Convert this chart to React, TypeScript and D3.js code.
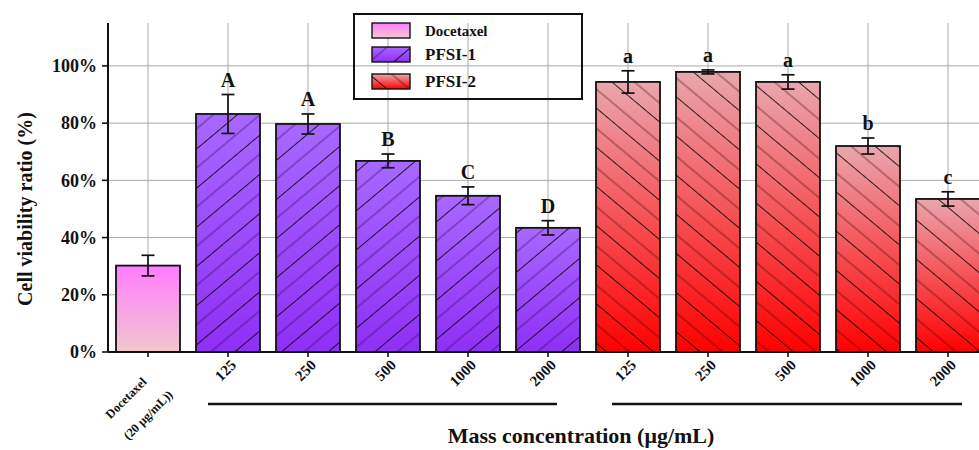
import * as d3 from "d3";

const categories = ["Docetaxel", "P1-125", "P1-250", "P1-500", "P1-1000", "P1-2000", "P2-125", "P2-250", "P2-500", "P2-1000", "P2-2000"];
const tickLabels = ["", "125", "250", "500", "1000", "2000", "125", "250", "500", "1000", "2000"];
const groups = ["Docetaxel", "PFSI-1", "PFSI-1", "PFSI-1", "PFSI-1", "PFSI-1", "PFSI-2", "PFSI-2", "PFSI-2", "PFSI-2", "PFSI-2"];
const values = [30.2, 83.2, 79.7, 66.8, 54.6, 43.4, 94.4, 97.9, 94.4, 72.0, 53.5];
const errors = [3.6, 6.8, 3.5, 2.4, 3.1, 2.5, 3.9, 0.7, 2.5, 2.8, 2.5];
const letters = ["", "A", "A", "B", "C", "D", "a", "a", "a", "b", "c"];
const yTicks = [0, 20, 40, 60, 80, 100];
const legendItems = ["Docetaxel", "PFSI-1", "PFSI-2"];

const FONT = "'Liberation Serif', 'Times New Roman', serif";

export default function App() {
    const width = 979;
    const height = 450;
    const margin = {left: 108, top: 23, bottom: 352};

    const x = d3.scaleBand<string>()
        .domain(categories)
        .range([margin.left, margin.left + 880])
        .paddingInner(0.2)
        .paddingOuter(0.1);

    const y = d3.scaleLinear()
        .domain([0, 115])
        .range([margin.bottom, margin.top]);

    const fillFor = (g: string) => g === "Docetaxel" ? "url(#gDoc)" : g === "PFSI-1" ? "url(#gP1)" : "url(#gP2)";
    const hatchFor = (g: string) => g === "PFSI-1" ? "url(#hP1)" : g === "PFSI-2" ? "url(#hP2)" : null;

    const center = (c: string) => (x(c) || 0) + x.bandwidth() / 2;
    const p1 = categories.filter((c, i) => groups[i] === "PFSI-1");
    const p2 = categories.filter((c, i) => groups[i] === "PFSI-2");

    return (
        <svg width={width} height={height} style={{position: "absolute", left: 0, top: 0, background: "#fff"}}
             fontFamily={FONT} fontWeight="bold">
            <defs>
                <linearGradient id="gDoc" x1="0" y1="0" x2="0" y2="1">
                    <stop offset="0" stopColor="#ff7cff"/>
                    <stop offset="1" stopColor="#f2c8cc"/>
                </linearGradient>
                <linearGradient id="gP1" x1="0" y1="0" x2="0" y2="1">
                    <stop offset="0" stopColor="#a868ff"/>
                    <stop offset="1" stopColor="#8f2ff5"/>
                </linearGradient>
                <linearGradient id="gP2" x1="0" y1="0" x2="0" y2="1">
                    <stop offset="0" stopColor="#eaa6ae"/>
                    <stop offset="1" stopColor="#ff0000"/>
                </linearGradient>
                <pattern id="hP1" patternUnits="userSpaceOnUse" width="30" height="30" patternTransform="rotate(50)">
                    <line x1="0" y1="0" x2="0" y2="30" stroke="#000" strokeWidth="1.6"/>
                    <line x1="15" y1="0" x2="15" y2="30" stroke="#2a0050" strokeWidth="1" strokeOpacity="0.6"/>
                </pattern>
                <pattern id="hP2" patternUnits="userSpaceOnUse" width="30" height="30" patternTransform="rotate(-50)">
                    <line x1="0" y1="0" x2="0" y2="30" stroke="#000" strokeWidth="1.6"/>
                    <line x1="15" y1="0" x2="15" y2="30" stroke="#400000" strokeWidth="1" strokeOpacity="0.6"/>
                </pattern>
            </defs>

            {/* grid */}
            {yTicks.filter(t => t > 0).map(t => (
                <line key={"hg" + t} x1={margin.left} x2={width} y1={y(t)} y2={y(t)} stroke="#aaa" strokeWidth={1}/>
            ))}
            {categories.map(c => (
                <line key={"vg" + c} x1={center(c)} x2={center(c)} y1={margin.top} y2={margin.bottom} stroke="#aaa" strokeWidth={1}/>
            ))}

            {/* bars */}
            {categories.map((c, i) => {
                const h = hatchFor(groups[i]);
                return (
                    <g key={"b" + c}>
                        <rect x={x(c)} y={y(values[i])} width={x.bandwidth()} height={y(0) - y(values[i])}
                              fill={fillFor(groups[i])}/>
                        {h && <rect x={x(c)} y={y(values[i])} width={x.bandwidth()} height={y(0) - y(values[i])}
                                    fill={h}/>}
                        <rect x={x(c)} y={y(values[i])} width={x.bandwidth()} height={y(0) - y(values[i])}
                              fill="none" stroke="#111" strokeWidth={1.8}/>
                    </g>
                );
            })}

            {/* error bars */}
            {categories.map((c, i) => {
                const cx = center(c);
                const top = y(values[i] + errors[i]);
                const bot = y(values[i] - errors[i]);
                return (
                    <g key={"e" + c} stroke="#111" strokeWidth={1.7}>
                        <line x1={cx} x2={cx} y1={top} y2={bot}/>
                        <line x1={cx - 6.5} x2={cx + 6.5} y1={top} y2={top}/>
                        <line x1={cx - 6.5} x2={cx + 6.5} y1={bot} y2={bot}/>
                    </g>
                );
            })}

            {/* significance letters */}
            {categories.map((c, i) => letters[i] ? (
                <text key={"l" + c} x={center(c)} y={y(values[i] + errors[i]) - 8} textAnchor="middle"
                      fontSize={20} fill="#111">{letters[i]}</text>
            ) : null)}

            {/* y axis */}
            <line x1={margin.left} x2={margin.left} y1={margin.top} y2={margin.bottom} stroke="#111" strokeWidth={2}/>
            {yTicks.map(t => (
                <g key={"yt" + t}>
                    <line x1={margin.left - 6} x2={margin.left} y1={y(t)} y2={y(t)} stroke="#111" strokeWidth={1.6}/>
                    <text x={97} y={y(t)} dy="0.35em" textAnchor="end" fontSize={18} fill="#111">{t}%</text>
                </g>
            ))}
            <text transform={`translate(32,209) rotate(-90)`} textAnchor="middle" fontSize={20} fill="#111">
                Cell viability ratio (%)
            </text>

            {/* x axis */}
            <line x1={margin.left} x2={width} y1={margin.bottom} y2={margin.bottom} stroke="#111" strokeWidth={2}/>
            {categories.map((c, i) => (
                <g key={"xt" + c}>
                    <line x1={center(c)} x2={center(c)} y1={margin.bottom} y2={margin.bottom + 5} stroke="#111" strokeWidth={1.6}/>
                    {tickLabels[i] && (
                        <text transform={`translate(${center(c) + 9},${margin.bottom + 14}) rotate(-45)`}
                              textAnchor="end" fontSize={15} fill="#111">{tickLabels[i]}</text>
                    )}
                </g>
            ))}
            <text transform={`translate(${center(categories[0]) - 19},${margin.bottom + 49}) rotate(-45)`}
                  textAnchor="middle" fontSize={12.5} fill="#111">Docetaxel</text>
            <text transform={`translate(${center(categories[0]) + 3},${margin.bottom + 66}) rotate(-45)`}
                  textAnchor="middle" fontSize={12.5} fill="#111">(20 μg/mL))</text>

            {/* group brackets */}
            <line x1={center(p1[0]) - 20} x2={center(p1[p1.length - 1]) + 9} y1={404} y2={404} stroke="#111" strokeWidth={2.5}/>
            <line x1={center(p2[0]) - 16} x2={center(p2[p2.length - 1]) + 14} y1={404} y2={404} stroke="#111" strokeWidth={2.5}/>

            <text x={581} y={443} textAnchor="middle" fontSize={22} fill="#111">Mass concentration (μg/mL)</text>

            {/* legend */}
            <rect x={354} y={14} width={228} height={85} fill="none" stroke="#111" strokeWidth={2}/>
            {legendItems.map((g, i) => {
                const ly = [23, 47, 74][i];
                const h = hatchFor(g);
                return (
                    <g key={"lg" + g}>
                        <rect x={372} y={ly} width={38} height={15} fill={fillFor(g)}/>
                        {h && <rect x={372} y={ly} width={38} height={15} fill={h}/>}
                        <rect x={372} y={ly} width={38} height={15} fill="none" stroke="#111" strokeWidth={1.4}/>
                        <text x={425} y={ly + 7.5} dy="0.35em" fontSize={i === 0 ? 15 : 17} fill="#111">{g}</text>
                    </g>
                );
            })}
        </svg>
    );
}
